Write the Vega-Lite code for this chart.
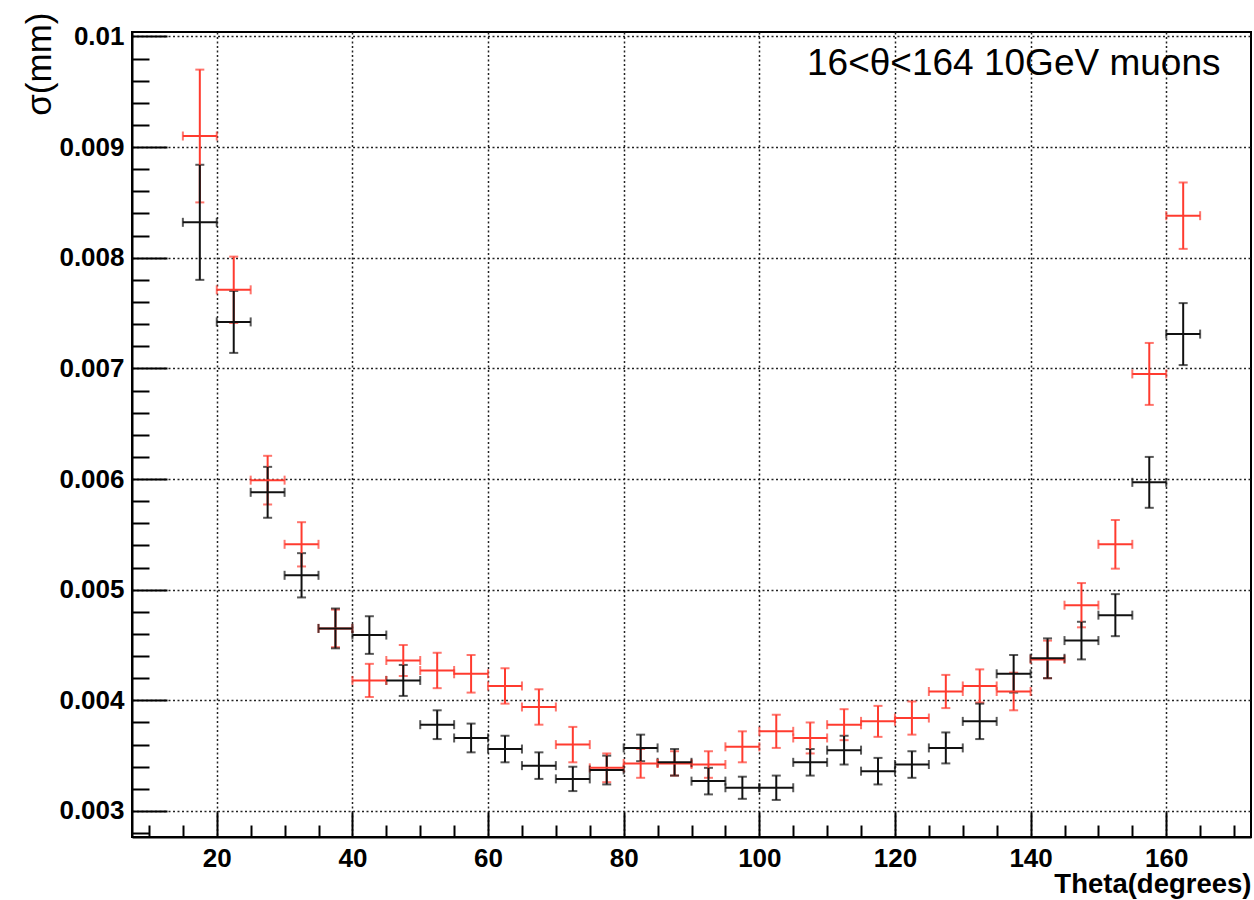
{
  "$schema": "https://vega.github.io/schema/vega-lite/v6.json",
  "width": 1119,
  "height": 805,
  "autosize": {"type": "none"},
  "padding": {"left": 132, "top": 32, "right": 3, "bottom": 63},
  "background": "white",
  "config": {
    "view": {"stroke": "black", "strokeWidth": 2},
    "font": "Liberation Sans"
  },
  "datasets": {
    "pts": [
      {"series": "red", "theta": 17.5, "sigma": 0.00910, "err": 0.00060, "dtheta": 2.5},
      {"series": "red", "theta": 22.5, "sigma": 0.00771, "err": 0.00030, "dtheta": 2.5},
      {"series": "red", "theta": 27.5, "sigma": 0.00599, "err": 0.00022, "dtheta": 2.5},
      {"series": "red", "theta": 32.5, "sigma": 0.00541, "err": 0.00020, "dtheta": 2.5},
      {"series": "red", "theta": 37.5, "sigma": 0.00465, "err": 0.00017, "dtheta": 2.5},
      {"series": "red", "theta": 42.5, "sigma": 0.00418, "err": 0.00015, "dtheta": 2.5},
      {"series": "red", "theta": 47.5, "sigma": 0.00436, "err": 0.00014, "dtheta": 2.5},
      {"series": "red", "theta": 52.5, "sigma": 0.00427, "err": 0.00016, "dtheta": 2.5},
      {"series": "red", "theta": 57.5, "sigma": 0.00424, "err": 0.00017, "dtheta": 2.5},
      {"series": "red", "theta": 62.5, "sigma": 0.00413, "err": 0.00016, "dtheta": 2.5},
      {"series": "red", "theta": 67.5, "sigma": 0.00394, "err": 0.00016, "dtheta": 2.5},
      {"series": "red", "theta": 72.5, "sigma": 0.00360, "err": 0.00016, "dtheta": 2.5},
      {"series": "red", "theta": 77.5, "sigma": 0.00339, "err": 0.00013, "dtheta": 2.5},
      {"series": "red", "theta": 82.5, "sigma": 0.00343, "err": 0.00013, "dtheta": 2.5},
      {"series": "red", "theta": 87.5, "sigma": 0.00343, "err": 0.00011, "dtheta": 2.5},
      {"series": "red", "theta": 92.5, "sigma": 0.00342, "err": 0.00012, "dtheta": 2.5},
      {"series": "red", "theta": 97.5, "sigma": 0.00358, "err": 0.00014, "dtheta": 2.5},
      {"series": "red", "theta": 102.5, "sigma": 0.00372, "err": 0.00015, "dtheta": 2.5},
      {"series": "red", "theta": 107.5, "sigma": 0.00366, "err": 0.00014, "dtheta": 2.5},
      {"series": "red", "theta": 112.5, "sigma": 0.00378, "err": 0.00014, "dtheta": 2.5},
      {"series": "red", "theta": 117.5, "sigma": 0.00381, "err": 0.00014, "dtheta": 2.5},
      {"series": "red", "theta": 122.5, "sigma": 0.00384, "err": 0.00015, "dtheta": 2.5},
      {"series": "red", "theta": 127.5, "sigma": 0.00408, "err": 0.00015, "dtheta": 2.5},
      {"series": "red", "theta": 132.5, "sigma": 0.00413, "err": 0.00015, "dtheta": 2.5},
      {"series": "red", "theta": 137.5, "sigma": 0.00408, "err": 0.00017, "dtheta": 2.5},
      {"series": "red", "theta": 142.5, "sigma": 0.00437, "err": 0.00017, "dtheta": 2.5},
      {"series": "red", "theta": 147.5, "sigma": 0.00486, "err": 0.00020, "dtheta": 2.5},
      {"series": "red", "theta": 152.5, "sigma": 0.00541, "err": 0.00022, "dtheta": 2.5},
      {"series": "red", "theta": 157.5, "sigma": 0.00695, "err": 0.00028, "dtheta": 2.5},
      {"series": "red", "theta": 162.5, "sigma": 0.00838, "err": 0.00030, "dtheta": 2.5},
      {"series": "black", "theta": 17.5, "sigma": 0.00832, "err": 0.00052, "dtheta": 2.5},
      {"series": "black", "theta": 22.5, "sigma": 0.00742, "err": 0.00028, "dtheta": 2.5},
      {"series": "black", "theta": 27.5, "sigma": 0.00588, "err": 0.00023, "dtheta": 2.5},
      {"series": "black", "theta": 32.5, "sigma": 0.00513, "err": 0.00020, "dtheta": 2.5},
      {"series": "black", "theta": 37.5, "sigma": 0.00465, "err": 0.00018, "dtheta": 2.5},
      {"series": "black", "theta": 42.5, "sigma": 0.00459, "err": 0.00017, "dtheta": 2.5},
      {"series": "black", "theta": 47.5, "sigma": 0.00418, "err": 0.00014, "dtheta": 2.5},
      {"series": "black", "theta": 52.5, "sigma": 0.00378, "err": 0.00013, "dtheta": 2.5},
      {"series": "black", "theta": 57.5, "sigma": 0.00366, "err": 0.00013, "dtheta": 2.5},
      {"series": "black", "theta": 62.5, "sigma": 0.00356, "err": 0.00012, "dtheta": 2.5},
      {"series": "black", "theta": 67.5, "sigma": 0.00341, "err": 0.00012, "dtheta": 2.5},
      {"series": "black", "theta": 72.5, "sigma": 0.00329, "err": 0.00011, "dtheta": 2.5},
      {"series": "black", "theta": 77.5, "sigma": 0.00337, "err": 0.00013, "dtheta": 2.5},
      {"series": "black", "theta": 82.5, "sigma": 0.00357, "err": 0.00012, "dtheta": 2.5},
      {"series": "black", "theta": 87.5, "sigma": 0.00344, "err": 0.00012, "dtheta": 2.5},
      {"series": "black", "theta": 92.5, "sigma": 0.00327, "err": 0.00012, "dtheta": 2.5},
      {"series": "black", "theta": 97.5, "sigma": 0.00321, "err": 0.00010, "dtheta": 2.5},
      {"series": "black", "theta": 102.5, "sigma": 0.00321, "err": 0.00011, "dtheta": 2.5},
      {"series": "black", "theta": 107.5, "sigma": 0.00344, "err": 0.00012, "dtheta": 2.5},
      {"series": "black", "theta": 112.5, "sigma": 0.00355, "err": 0.00013, "dtheta": 2.5},
      {"series": "black", "theta": 117.5, "sigma": 0.00336, "err": 0.00012, "dtheta": 2.5},
      {"series": "black", "theta": 122.5, "sigma": 0.00342, "err": 0.00012, "dtheta": 2.5},
      {"series": "black", "theta": 127.5, "sigma": 0.00357, "err": 0.00014, "dtheta": 2.5},
      {"series": "black", "theta": 132.5, "sigma": 0.00381, "err": 0.00016, "dtheta": 2.5},
      {"series": "black", "theta": 137.5, "sigma": 0.00424, "err": 0.00017, "dtheta": 2.5},
      {"series": "black", "theta": 142.5, "sigma": 0.00438, "err": 0.00018, "dtheta": 2.5},
      {"series": "black", "theta": 147.5, "sigma": 0.00454, "err": 0.00017, "dtheta": 2.5},
      {"series": "black", "theta": 152.5, "sigma": 0.00477, "err": 0.00019, "dtheta": 2.5},
      {"series": "black", "theta": 157.5, "sigma": 0.00597, "err": 0.00023, "dtheta": 2.5},
      {"series": "black", "theta": 162.5, "sigma": 0.00731, "err": 0.00028, "dtheta": 2.5}
    ],
    "note": [
      {"label": "16<θ<164 10GeV muons", "theta": 168.0, "sigma": 0.00965}
    ]
  },
  "layer": [
    {
      "data": {"name": "pts"},
      "mark": {"type": "errorbar", "ticks": {"size": 9, "thickness": 2}, "thickness": 2},
      "encoding": {
        "x": {
          "field": "theta", "type": "quantitative", "title": "Theta(degrees)",
          "scale": {"domain": [7.5, 172.5], "nice": false, "zero": false},
          "axis": {
            "values": [10, 15, 20, 25, 30, 35, 40, 45, 50, 55, 60, 65, 70, 75, 80, 85, 90, 95, 100, 105, 110, 115, 120, 125, 130, 135, 140, 145, 150, 155, 160, 165, 170],
            "tickCount": 500,
            "format": "d",
            "labelExpr": "datum.value % 20 == 0 ? datum.label : ''",
            "labelOverlap": false,
            "labelFlush": false,
            "tickSize": {"condition": {"test": "datum.value % 20 == 0", "value": -25}, "value": -12},
            "tickWidth": 2,
            "tickColor": "black",
            "grid": true,
            "gridColor": "#222222",
            "gridDash": [2, 2.5],
            "gridWidth": 1.5,
            "gridOpacity": {"condition": {"test": "datum.value % 20 == 0", "value": 1}, "value": 0},
            "domainColor": "black",
            "domainWidth": 2,
            "labelFont": "Liberation Sans",
            "labelFontWeight": "bold",
            "labelFontSize": 26,
            "labelColor": "black",
            "labelPadding": 33,
            "titleFont": "Liberation Sans",
            "titleFontWeight": "bold",
            "titleFontSize": 27.5,
            "titleColor": "black",
            "titleAlign": "right",
            "titleBaseline": "alphabetic",
            "titleX": 1119,
            "titleY": 55
          }
        },
        "y": {
          "field": "sigma", "type": "quantitative", "title": "σ(mm)",
          "scale": {"domain": [0.002765, 0.01004], "nice": false, "zero": false},
          "axis": {
            "values": [0.0028, 0.003, 0.0032, 0.0034, 0.0036, 0.0038, 0.004, 0.0042, 0.0044, 0.0046, 0.0048, 0.005, 0.0052, 0.0054, 0.0056, 0.0058, 0.006, 0.0062, 0.0064, 0.0066, 0.0068, 0.007, 0.0072, 0.0074, 0.0076, 0.0078, 0.008, 0.0082, 0.0084, 0.0086, 0.0088, 0.009, 0.0092, 0.0094, 0.0096, 0.0098, 0.01],
            "tickCount": 500,
            "format": "~g",
            "labelExpr": "abs(datum.value*1000 - round(datum.value*1000)) < 0.000001 ? datum.label : ''",
            "labelOverlap": false,
            "labelFlush": false,
            "tickSize": {"condition": {"test": "abs(datum.value*1000 - round(datum.value*1000)) < 0.000001", "value": -35}, "value": -17},
            "tickWidth": 2,
            "tickColor": "black",
            "grid": true,
            "gridColor": "#222222",
            "gridDash": [2, 2.5],
            "gridWidth": 1.5,
            "gridOpacity": {"condition": {"test": "abs(datum.value*1000 - round(datum.value*1000)) < 0.000001", "value": 1}, "value": 0},
            "domainColor": "black",
            "domainWidth": 2,
            "labelFont": "Liberation Sans",
            "labelFontWeight": "bold",
            "labelFontSize": 26,
            "labelColor": "black",
            "labelPadding": 43,
            "titleFont": "Liberation Sans",
            "titleFontWeight": "normal",
            "titleFontSize": 35,
            "titleColor": "black",
            "titleAngle": 270,
            "titleAlign": "right",
            "titleBaseline": "alphabetic",
            "titleX": -82,
            "titleY": -20
          }
        },
        "yError": {"field": "err"},
        "color": {
          "field": "series", "type": "nominal",
          "scale": {"domain": ["red", "black"], "range": ["#ff3b2f", "#111111"]},
          "legend": null
        }
      }
    },
    {
      "data": {"name": "pts"},
      "mark": {"type": "errorbar", "ticks": {"size": 9, "thickness": 2}, "thickness": 2},
      "encoding": {
        "x": {"field": "theta", "type": "quantitative", "title": "Theta(degrees)"},
        "xError": {"field": "dtheta"},
        "y": {"field": "sigma", "type": "quantitative", "title": "σ(mm)"},
        "color": {"field": "series", "type": "nominal", "legend": null}
      }
    },
    {
      "data": {"name": "note"},
      "mark": {"type": "text", "align": "right", "baseline": "alphabetic", "fontSize": 37, "font": "Liberation Sans", "color": "black"},
      "encoding": {
        "x": {"field": "theta", "type": "quantitative", "title": "Theta(degrees)"},
        "y": {"field": "sigma", "type": "quantitative", "title": "σ(mm)"},
        "text": {"field": "label"}
      }
    }
  ]
}
